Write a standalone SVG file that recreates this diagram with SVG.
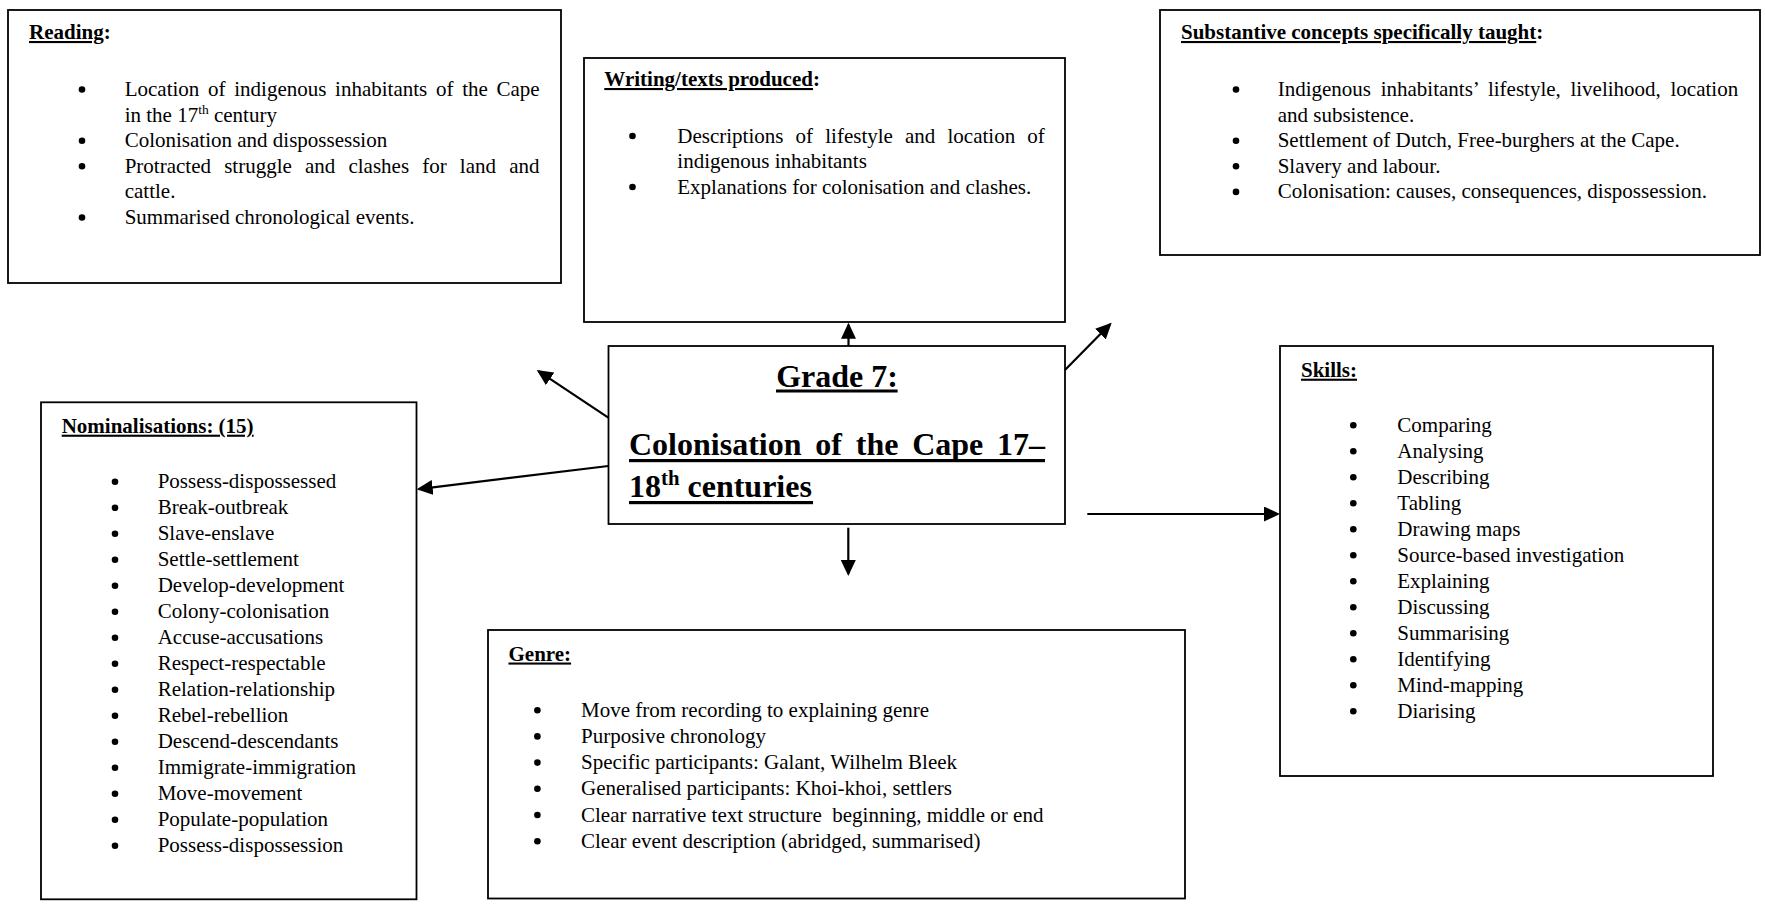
<svg xmlns="http://www.w3.org/2000/svg" width="1765" height="905" viewBox="0 0 1765 905">
<style>
text{font-family:"Liberation Serif","Times New Roman",serif;font-size:21px;fill:#000}
.b{font-weight:bold}
.u{text-decoration:underline}
.bl circle{fill:#000}
.box{fill:#fff;stroke:#000;stroke-width:1.8}
.t{font-size:32px;font-weight:bold}
.sup{font-size:13.5px}
.conn line{stroke:#000;stroke-width:2.2;marker-end:url(#ah)}
</style>
<defs>
<marker id="ah" markerUnits="userSpaceOnUse" markerWidth="16" markerHeight="15" refX="14" refY="7.5" orient="auto">
<path d="M0,0 L16,7.5 L0,15 z" fill="#000"/>
</marker>
</defs>
<rect width="1765" height="905" fill="#fff"/>

<g id="reading">
<rect class="box" x="8" y="10" width="553" height="273"/>
<text x="29" y="39" class="b"><tspan class="u">Reading</tspan>:</text>
<g class="bl" transform="translate(0,-6.5)">
<circle cx="82" cy="96" r="3.3"/>
<circle cx="82" cy="147.2" r="3.3"/>
<circle cx="82" cy="172.8" r="3.3"/>
<circle cx="82" cy="224" r="3.3"/>
</g>
<text x="124.7" y="96" word-spacing="3.45">Location of indigenous inhabitants of the Cape</text>
<text x="124.7" y="121.6">in the 17<tspan class="sup" dy="-8">th</tspan><tspan dy="8"> century</tspan></text>
<text x="124.7" y="147.2">Colonisation and dispossession</text>
<text x="124.7" y="172.8" word-spacing="7.9">Protracted struggle and clashes for land and</text>
<text x="124.7" y="198.4">cattle.</text>
<text x="124.7" y="224">Summarised chronological events.</text>
</g>

<g id="writing">
<rect class="box" x="584" y="58" width="481" height="264"/>
<text x="604.3" y="86" class="b"><tspan class="u">Writing/texts produced</tspan>:</text>
<g class="bl" transform="translate(0,-6.5)">
<circle cx="632.5" cy="142.5" r="3.3"/>
<circle cx="632.5" cy="193.5" r="3.3"/>
</g>
<text x="677.3" y="142.5" word-spacing="6.9">Descriptions of lifestyle and location of</text>
<text x="677.3" y="168">indigenous inhabitants</text>
<text x="677.3" y="193.5">Explanations for colonisation and clashes.</text>
</g>

<g id="substantive">
<rect class="box" x="1160" y="10" width="600" height="245"/>
<text x="1181" y="39" class="b"><tspan class="u">Substantive concepts specifically taught</tspan>:</text>
<g class="bl" transform="translate(0,-6.5)">
<circle cx="1236" cy="96" r="3.3"/>
<circle cx="1236" cy="147.2" r="3.3"/>
<circle cx="1236" cy="172.8" r="3.3"/>
<circle cx="1236" cy="198.4" r="3.3"/>
</g>
<text x="1277.7" y="96" word-spacing="4.4">Indigenous inhabitants’ lifestyle, livelihood, location</text>
<text x="1277.7" y="121.6">and subsistence.</text>
<text x="1277.7" y="147.2">Settlement of Dutch, Free-burghers at the Cape.</text>
<text x="1277.7" y="172.8">Slavery and labour.</text>
<text x="1277.7" y="198.4">Colonisation: causes, consequences, dispossession.</text>
</g>

<g id="center">
<rect class="box" x="608.5" y="346" width="456.5" height="178"/>
<text class="t" x="837" y="386.5" text-anchor="middle">Grade 7:</text>
<rect x="776" y="389.5" width="121.6" height="3" fill="#000"/>
<text class="t" x="629" y="455" word-spacing="5.8">Colonisation of the Cape 17–</text>
<rect x="629" y="459" width="416" height="3.2" fill="#000"/>
<text class="t" x="629" y="497">18<tspan font-size="20.8" dy="-12">th</tspan><tspan dy="12"> centuries</tspan></text>
<rect x="629" y="501" width="184" height="3.2" fill="#000"/>
</g>

<g id="nominalisations">
<rect class="box" x="41" y="402.3" width="375.5" height="497"/>
<text x="61.7" y="432.7" class="b u">Nominalisations: (15)</text>
<g class="bl" transform="translate(0,-6.5)">
<circle cx="115" cy="488.3" r="3.3"/><circle cx="115" cy="514.3" r="3.3"/><circle cx="115" cy="540.3" r="3.3"/><circle cx="115" cy="566.3" r="3.3"/><circle cx="115" cy="592.3" r="3.3"/>
<circle cx="115" cy="618.3" r="3.3"/><circle cx="115" cy="644.3" r="3.3"/><circle cx="115" cy="670.3" r="3.3"/><circle cx="115" cy="696.3" r="3.3"/><circle cx="115" cy="722.3" r="3.3"/>
<circle cx="115" cy="748.3" r="3.3"/><circle cx="115" cy="774.3" r="3.3"/><circle cx="115" cy="800.3" r="3.3"/><circle cx="115" cy="826.3" r="3.3"/><circle cx="115" cy="852.3" r="3.3"/>
</g>
<text x="157.7" y="488.3">Possess-dispossessed</text>
<text x="157.7" y="514.3">Break-outbreak</text>
<text x="157.7" y="540.3">Slave-enslave</text>
<text x="157.7" y="566.3">Settle-settlement</text>
<text x="157.7" y="592.3">Develop-development</text>
<text x="157.7" y="618.3">Colony-colonisation</text>
<text x="157.7" y="644.3">Accuse-accusations</text>
<text x="157.7" y="670.3">Respect-respectable</text>
<text x="157.7" y="696.3">Relation-relationship</text>
<text x="157.7" y="722.3">Rebel-rebellion</text>
<text x="157.7" y="748.3">Descend-descendants</text>
<text x="157.7" y="774.3">Immigrate-immigration</text>
<text x="157.7" y="800.3">Move-movement</text>
<text x="157.7" y="826.3">Populate-population</text>
<text x="157.7" y="852.3">Possess-dispossession</text>
</g>

<g id="skills">
<rect class="box" x="1280" y="346" width="433" height="430"/>
<text x="1301" y="376.7" class="b u">Skills:</text>
<g class="bl" transform="translate(0,-6.5)">
<circle cx="1353.3" cy="431.7" r="3.3"/><circle cx="1353.3" cy="457.7" r="3.3"/><circle cx="1353.3" cy="483.7" r="3.3"/><circle cx="1353.3" cy="509.7" r="3.3"/>
<circle cx="1353.3" cy="535.7" r="3.3"/><circle cx="1353.3" cy="561.7" r="3.3"/><circle cx="1353.3" cy="587.7" r="3.3"/><circle cx="1353.3" cy="613.7" r="3.3"/>
<circle cx="1353.3" cy="639.7" r="3.3"/><circle cx="1353.3" cy="665.7" r="3.3"/><circle cx="1353.3" cy="691.7" r="3.3"/><circle cx="1353.3" cy="717.7" r="3.3"/>
</g>
<text x="1397.3" y="431.7">Comparing</text>
<text x="1397.3" y="457.7">Analysing</text>
<text x="1397.3" y="483.7">Describing</text>
<text x="1397.3" y="509.7">Tabling</text>
<text x="1397.3" y="535.7">Drawing maps</text>
<text x="1397.3" y="561.7">Source-based investigation</text>
<text x="1397.3" y="587.7">Explaining</text>
<text x="1397.3" y="613.7">Discussing</text>
<text x="1397.3" y="639.7">Summarising</text>
<text x="1397.3" y="665.7">Identifying</text>
<text x="1397.3" y="691.7">Mind-mapping</text>
<text x="1397.3" y="717.7">Diarising</text>
</g>

<g id="genre">
<rect class="box" x="488" y="630" width="697" height="268.5"/>
<text x="508.5" y="660.5" class="b u">Genre:</text>
<g class="bl" transform="translate(0,-6.5)">
<circle cx="537.4" cy="716.7" r="3.3"/><circle cx="537.4" cy="742.9" r="3.3"/><circle cx="537.4" cy="769.1" r="3.3"/>
<circle cx="537.4" cy="795.3" r="3.3"/><circle cx="537.4" cy="821.5" r="3.3"/><circle cx="537.4" cy="847.7" r="3.3"/>
</g>
<text x="581" y="716.7">Move from recording to explaining genre</text>
<text x="581" y="742.9">Purposive chronology</text>
<text x="581" y="769.1">Specific participants: Galant, Wilhelm Bleek</text>
<text x="581" y="795.3">Generalised participants: Khoi-khoi, settlers</text>
<text x="581" y="821.5">Clear narrative text structure&#160; beginning, middle or end</text>
<text x="581" y="847.7">Clear event description (abridged, summarised)</text>
</g>

<g id="connectors" class="conn">
<line x1="848.5" y1="346" x2="848.5" y2="324.7"/>
<line x1="1065" y1="370" x2="1110.3" y2="324.1"/>
<line x1="608.3" y1="417.7" x2="538.4" y2="371.1"/>
<line x1="608.3" y1="466" x2="418.7" y2="489.1"/>
<line x1="1087.3" y1="514" x2="1278" y2="514"/>
<line x1="848.3" y1="527.7" x2="848.3" y2="574"/>
</g>
</svg>
